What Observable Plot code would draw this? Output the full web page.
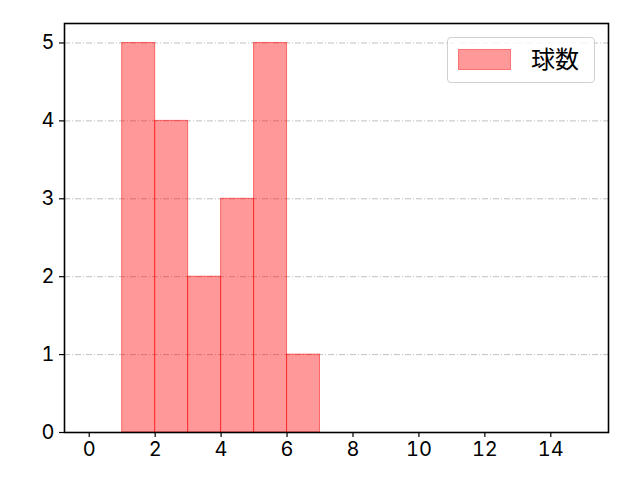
<!DOCTYPE html>
<html>
<head>
<meta charset="utf-8">
<script src="https://cdn.jsdelivr.net/npm/d3@7"></script>
<script src="https://cdn.jsdelivr.net/npm/@observablehq/plot@0.6"></script>
<style>
  body { margin: 0; background: #fff; }
  #wrap { position: relative; width: 640px; height: 480px; font-family: "Noto Sans CJK JP", "DejaVu Sans", sans-serif; }
  #legend { position: absolute; left: 447px; top: 37px; width: 148px; height: 46px; border: 1px solid #d0d0d0; border-radius: 4px; background: rgba(255,255,255,0.8); box-sizing: border-box; }
  #legend .sw { position: absolute; left: 10px; top: 11px; width: 53px; height: 21px; background: rgba(255,0,0,0.4); border: 1px solid rgba(255,0,0,0.25); box-sizing: border-box; }
  #legend .lb { position: absolute; left: 83px; top: 4px; font-size: 24px; line-height: 32px; color: #000; }
  svg text { font-family: Inter, "DejaVu Sans", sans-serif; font-size: 20px; }
</style>
</head>
<body>
<div id="wrap"></div>
<script>
const binStarts = [1, 2, 3, 4, 5, 6];
const binEnds = [2, 3, 4, 5, 6, 7];
const counts = [5, 4, 2, 3, 5, 1];
const xTicks = [0, 2, 4, 6, 8, 10, 12, 14];
const yTicks = [0, 1, 2, 3, 4, 5];
const seriesName = "球数";

const bars = binStarts.map((s, i) => ({x1: s, x2: binEnds[i], y: counts[i]}));
const fmt = d => String(d);

const chart = Plot.plot({
  width: 640,
  height: 480,
  marginLeft: 64,
  marginRight: 32,
  marginTop: 23,
  marginBottom: 48,
  style: {fontFamily: "Inter, 'DejaVu Sans', sans-serif", fontSize: "20px", color: "#000", background: "#fff"},
  x: {domain: [-0.75, 15.75], label: null},
  y: {domain: [0, 5.25], label: null},
  marks: [
    Plot.ruleY(yTicks.filter(d => d > 0), {stroke: "#b0b0b0", strokeWidth: 0.8, strokeDasharray: "6,2,1,2"}),
    Plot.rectY(bars, {x1: "x1", x2: "x2", y: "y", fill: "red", fillOpacity: 0.4, stroke: "red", strokeOpacity: 0.5, strokeWidth: 1}),
    Plot.axisX({ticks: xTicks, tickFormat: fmt, tickSize: 5, tickPadding: 4, fontSize: 20, stroke: "#000", strokeWidth: 1.2, label: null}),
    Plot.axisY({ticks: yTicks, tickFormat: fmt, tickSize: 5, tickPadding: 5, fontSize: 20, stroke: "#000", strokeWidth: 1.2, label: null}),
    Plot.frame({stroke: "#000", strokeWidth: 1.6})
  ]
});
const wrap = document.getElementById("wrap");
wrap.appendChild(chart);
const lg = document.createElement("div");
lg.id = "legend";
lg.innerHTML = '<div class="sw"></div><div class="lb">' + seriesName + '</div>';
wrap.appendChild(lg);
</script>
</body>
</html>
